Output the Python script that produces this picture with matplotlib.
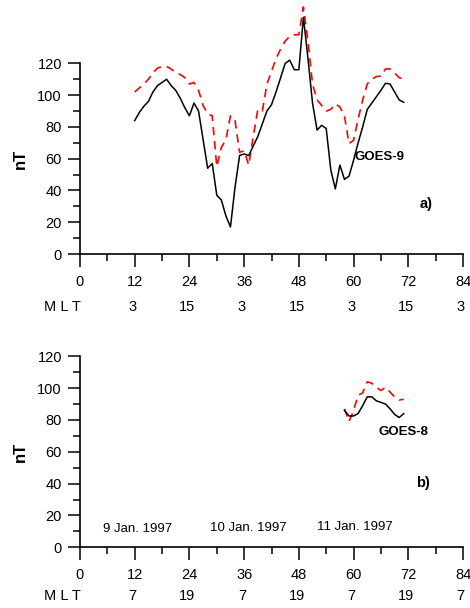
import numpy as np
import matplotlib.pyplot as plt
from matplotlib.ticker import MultipleLocator

plt.rcParams['font.family'] = ['Liberation Sans', 'DejaVu Sans']

# panel a) GOES-9, hourly values from hour 12 to 71
hours_a = list(range(12, 72))
goes9_black = [84, 89, 93, 96, 102, 106, 108, 110, 106, 103,
               98, 92, 87, 95, 90, 72, 54, 57, 37, 34,
               24, 17, 42, 62, 63, 62, 68, 74, 82, 90,
               94, 102, 111, 120, 122, 116, 116, 149, 123, 95,
               78, 81, 79, 53, 41, 56, 47, 49, 59, 70,
               80, 91, 95, 99, 103, 107.5, 107, 102, 97, 95.5]
goes9_red = [102, 104.5, 107, 110, 114, 117, 118, 118, 116.5, 114,
             113, 111, 107, 108, 103, 93.5, 88, 87, 55, 67,
             72, 87, 84, 64, 65, 56, 74, 91, 90, 107,
             115, 123, 129, 134, 137, 138, 138, 155.5, 134, 107,
             97, 93.5, 90, 91, 94.6, 92.5, 87, 69.5, 71.6, 85,
             97, 107, 110, 111.7, 112, 116.5, 116.5, 114, 111, 110]

# panel b) GOES-8, hours 58 to 71
hours_b = list(range(58, 72))
goes8_black = [86, 82.5, 82.5, 84, 89, 94.5, 94.5, 92, 91, 90, 87, 83.5, 81.5, 84]
goes8_red = [87, 79, 86, 95.5, 97, 104, 103, 100.5, 98.5, 100.5, 97.5, 94.5, 92.5, 93]

x_ticks = [0, 12, 24, 36, 48, 60, 72, 84]
mlt_a = ['3', '15', '3', '15', '3', '15', '3']
mlt_b = ['7', '19', '7', '19', '7', '19', '7']
dates = ['9 Jan. 1997', '10 Jan. 1997', '11 Jan. 1997']
date_pos = [(5.1, 7.5), (28.5, 8.2), (52, 9.2)]

fig = plt.figure(figsize=(4.7, 6.08), dpi=100)
ax_a = fig.add_axes([80 / 470, 354 / 608, 383 / 470, 251 / 608])
ax_b = fig.add_axes([80 / 470, 60.7 / 608, 383 / 470, 199 / 608])


def style_axis(ax, ytop, label_y):
    ax.set_xlim(0, 84)
    ax.set_ylim(0, ytop)
    for s in ['top', 'right']:
        ax.spines[s].set_visible(False)
    ax.spines['left'].set_bounds(0, 120)
    ax.spines['left'].set_linewidth(1.2)
    ax.spines['bottom'].set_linewidth(1.2)
    ax.set_xticks(x_ticks)
    ax.xaxis.set_minor_locator(MultipleLocator(6))
    ax.set_yticks(range(0, 121, 20))
    ax.set_yticks(range(0, 121, 10), minor=True)
    ax.tick_params(axis='both', which='major', length=9, width=1.1,
                   labelsize=10.5, direction='out')
    ax.tick_params(axis='both', which='minor', length=5, width=1.1, direction='out')
    ax.tick_params(axis='x', which='major', pad=6)
    ax.tick_params(axis='y', which='major', pad=4)
    ax.set_ylabel('nT', fontsize=12, fontweight='bold')
    ax.yaxis.set_label_coords(-0.136, label_y)
    ax.patch.set_visible(False)


style_axis(ax_a, 158, 0.38)
style_axis(ax_b, 125, 0.48)

ax_a.plot(hours_a, goes9_red, color='red', lw=1.2, ls=(0, (5, 3.5)))
ax_a.plot(hours_a, goes9_black, color='black', lw=1.1)
ax_a.text(60.3, 61, 'GOES-9', fontsize=9.5, fontweight='bold', va='center')
ax_a.text(74.5, 31.5, 'a)', fontsize=10.5, fontweight='bold', va='center')

ax_b.plot(hours_b, goes8_red, color='red', lw=1.2, ls=(0, (5, 3.5)))
ax_b.plot(hours_b, goes8_black, color='black', lw=1.1)
ax_b.text(65.5, 72.5, 'GOES-8', fontsize=9.5, fontweight='bold', va='center')
ax_b.text(73.8, 40.4, 'b)', fontsize=10.5, fontweight='bold', va='center')
for d, (xd, yd) in zip(dates, date_pos):
    ax_b.text(xd, yd, d, fontsize=9.5, va='bottom')

# MLT rows under the tick labels
for ax, labels, ypix in [(ax_a, mlt_a, 307), (ax_b, mlt_b, 596)]:
    yfig = 1 - ypix / 608
    trans = ax.get_xaxis_transform()
    yax = (ax.transAxes.inverted().transform(fig.transFigure.transform((0, yfig))))[1]
    ax.text(0.3, yax, 'M L T', transform=trans, fontsize=10.5, ha='right',
            va='center', clip_on=False)
    for xt, lab in zip(x_ticks[1:], labels):
        ax.text(xt - 0.5, yax, lab, transform=trans, fontsize=10.5, ha='center',
                va='center', clip_on=False)

fig.savefig('out.png', dpi=100)
